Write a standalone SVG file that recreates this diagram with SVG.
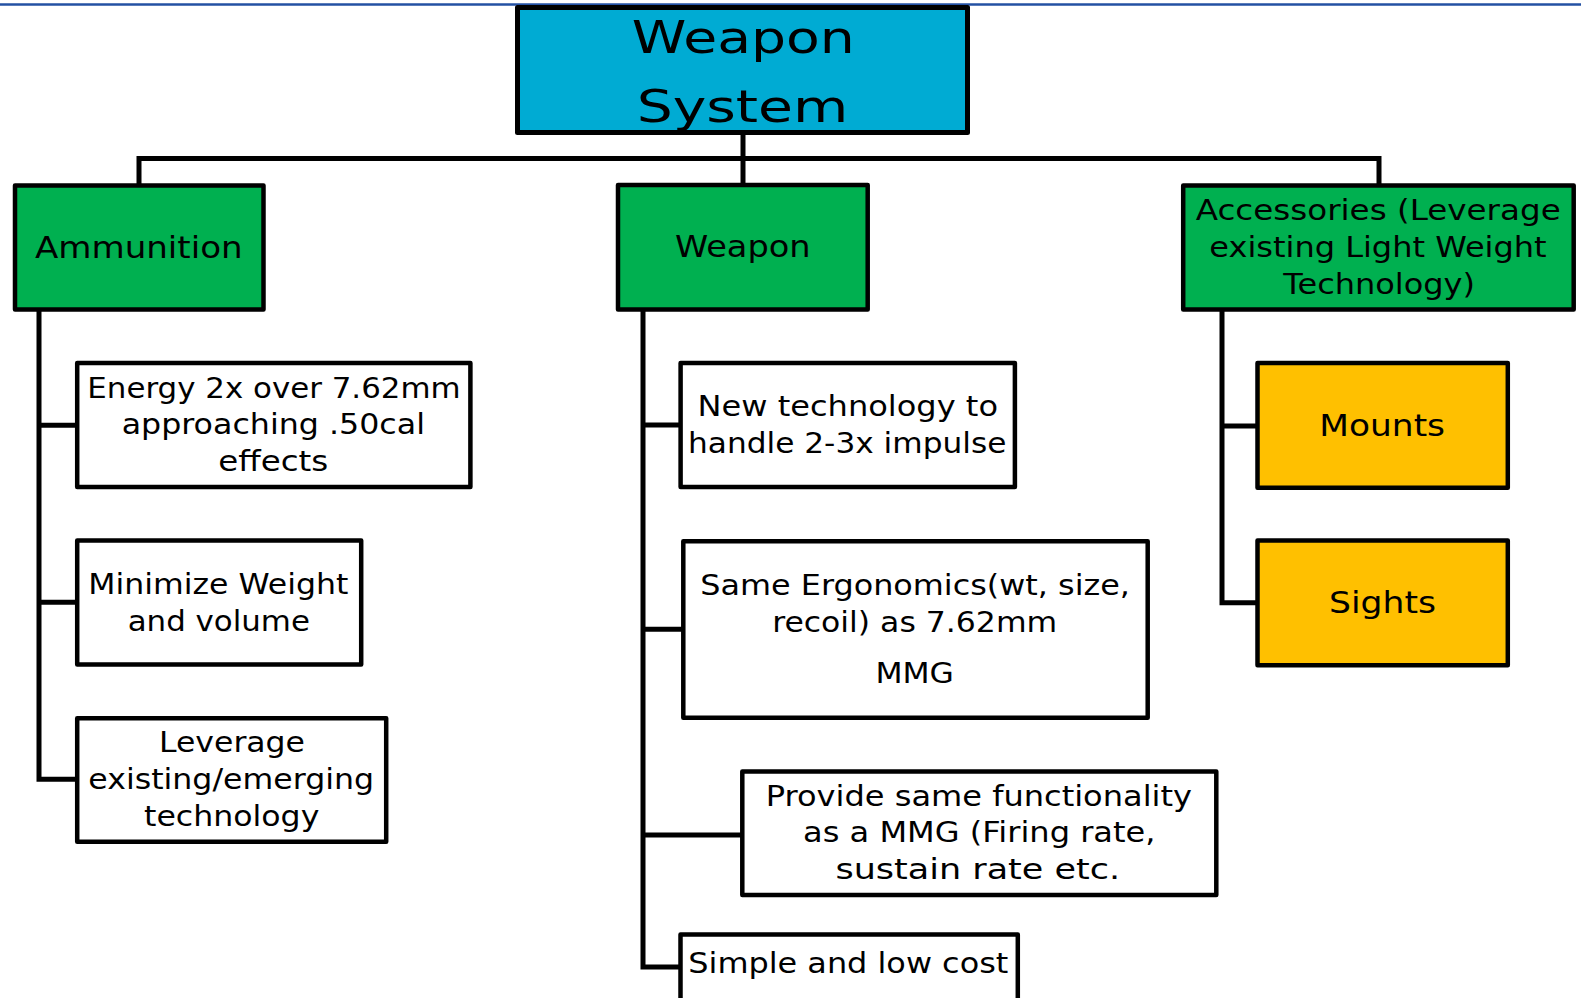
<svg xmlns="http://www.w3.org/2000/svg" width="1581" height="998" viewBox="0 0 1581 998">
<style>
.bx{stroke:#000;stroke-width:4.5;stroke-linejoin:round}
.w{fill:#fff}
.g{fill:#00B050}
.y{fill:#FFC000}
.b{fill:#00ABD3}
.c{fill:none;stroke:#000;stroke-width:5;stroke-linejoin:miter}
text{font-family:"DejaVu Sans","Verdana",sans-serif;fill:#000;text-anchor:middle}
.t28{font-size:28px}
.t31{font-size:31px}
.t44{font-size:44px}
</style>
<rect x="0" y="0" width="1581" height="998" fill="#fff"/>
<line x1="0" y1="4.5" x2="1581" y2="4.5" stroke="#2351A3" stroke-width="2.6"/>
<g id="connectors">
<path class="c" d="M743 135 V184"/>
<path class="c" d="M139 184 V158.5 H1379 V184"/>
<path class="c" d="M39 311 V779.3 H77"/>
<path class="c" d="M39 425.3 H77"/>
<path class="c" d="M39 602.3 H77"/>
<path class="c" d="M643 311 V967 H680"/>
<path class="c" d="M643 425 H680"/>
<path class="c" d="M643 629.3 H683"/>
<path class="c" d="M643 835 H742"/>
<path class="c" d="M1222 311 V602.7 H1257"/>
<path class="c" d="M1222 426 H1257"/>
</g>
<g id="n-root">
<rect class="bx b" x="517.5" y="7.5" width="450" height="125" style="stroke-width:5"/>
<text class="t44" x="743.3" y="53.3" textLength="223" lengthAdjust="spacingAndGlyphs">Weapon</text>
<text class="t44" x="742.5" y="121.7" textLength="211.7" lengthAdjust="spacingAndGlyphs">System</text>
</g>
<g id="n-ammunition">
<rect class="bx g" x="15" y="185.5" width="248.5" height="124"/>
<text class="t31" x="138.8" y="258.3" textLength="207.7" lengthAdjust="spacingAndGlyphs">Ammunition</text>
</g>
<g id="n-weapon">
<rect class="bx g" x="618" y="185" width="249.7" height="124.5"/>
<text class="t31" x="742.8" y="257.3" textLength="135.7" lengthAdjust="spacingAndGlyphs">Weapon</text>
</g>
<g id="n-accessories">
<rect class="bx g" x="1183.2" y="185.5" width="390.5" height="124"/>
<text class="t28" x="1378.2" y="220" textLength="365" lengthAdjust="spacingAndGlyphs">Accessories (Leverage</text>
<text class="t28" x="1378" y="257.3" textLength="337.3" lengthAdjust="spacingAndGlyphs">existing Light Weight</text>
<text class="t28" x="1379.2" y="294" textLength="191.7" lengthAdjust="spacingAndGlyphs">Technology)</text>
</g>
<g id="n-energy">
<rect class="bx w" x="77.2" y="363" width="393.2" height="124"/>
<text class="t28" x="274" y="397.7" textLength="373.3" lengthAdjust="spacingAndGlyphs">Energy 2x over 7.62mm</text>
<text class="t28" x="273.3" y="434.3" textLength="303.3" lengthAdjust="spacingAndGlyphs">approaching .50cal</text>
<text class="t28" x="273.3" y="471" textLength="110" lengthAdjust="spacingAndGlyphs">effects</text>
</g>
<g id="n-minimize">
<rect class="bx w" x="77.2" y="540.5" width="284" height="124"/>
<text class="t28" x="218.3" y="594" textLength="260" lengthAdjust="spacingAndGlyphs">Minimize Weight</text>
<text class="t28" x="218.8" y="630.7" textLength="182.3" lengthAdjust="spacingAndGlyphs">and volume</text>
</g>
<g id="n-leverage">
<rect class="bx w" x="77.2" y="718.2" width="309" height="123.6"/>
<text class="t28" x="232" y="752.3" textLength="146" lengthAdjust="spacingAndGlyphs">Leverage</text>
<text class="t28" x="231.2" y="789.3" textLength="285.7" lengthAdjust="spacingAndGlyphs">existing/emerging</text>
<text class="t28" x="231.7" y="826" textLength="175.3" lengthAdjust="spacingAndGlyphs">technology</text>
</g>
<g id="n-newtech">
<rect class="bx w" x="680.6" y="363" width="334.3" height="124"/>
<text class="t28" x="847.8" y="416" textLength="300.4" lengthAdjust="spacingAndGlyphs">New technology to</text>
<text class="t28" x="847.2" y="452.7" textLength="318.4" lengthAdjust="spacingAndGlyphs">handle 2-3x impulse</text>
</g>
<g id="n-ergonomics">
<rect class="bx w" x="683.3" y="541.2" width="464.4" height="176.6"/>
<text class="t28" x="915.1" y="595" textLength="429.7" lengthAdjust="spacingAndGlyphs">Same Ergonomics(wt, size,</text>
<text class="t28" x="914.7" y="631.7" textLength="285.1" lengthAdjust="spacingAndGlyphs">recoil) as 7.62mm</text>
<text class="t28" x="914.7" y="683.3" textLength="78.5" lengthAdjust="spacingAndGlyphs">MMG</text>
</g>
<g id="n-provide">
<rect class="bx w" x="742.3" y="771.5" width="474" height="123.6"/>
<text class="t28" x="978.9" y="805.7" textLength="426.2" lengthAdjust="spacingAndGlyphs">Provide same functionality</text>
<text class="t28" x="979.3" y="842.3" textLength="352.4" lengthAdjust="spacingAndGlyphs">as a MMG (Firing rate,</text>
<text class="t28" x="977.8" y="879" textLength="284.7" lengthAdjust="spacingAndGlyphs">sustain rate etc.</text>
</g>
<g id="n-simple">
<rect class="bx w" x="680.5" y="934.5" width="337.3" height="100"/>
<text class="t28" x="848.3" y="973" textLength="320" lengthAdjust="spacingAndGlyphs">Simple and low cost</text>
</g>
<g id="n-mounts">
<rect class="bx y" x="1257.5" y="363" width="250.3" height="124.7"/>
<text class="t31" x="1382.2" y="436" textLength="125.7" lengthAdjust="spacingAndGlyphs">Mounts</text>
</g>
<g id="n-sights">
<rect class="bx y" x="1257.5" y="540.5" width="250.3" height="124.7"/>
<text class="t31" x="1382.5" y="613.3" textLength="107" lengthAdjust="spacingAndGlyphs">Sights</text>
</g>
</svg>
